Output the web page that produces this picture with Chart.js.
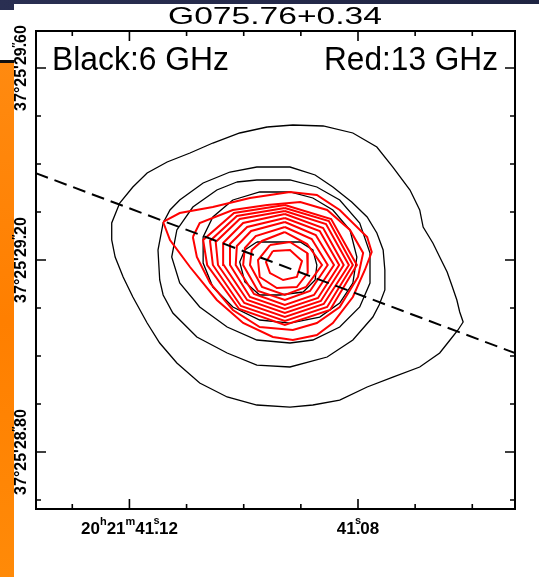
<!DOCTYPE html>
<html>
<head>
<meta charset="utf-8">
<script src="https://cdn.jsdelivr.net/npm/chart.js@4/dist/chart.umd.min.js"></script>
<style>
  html, body { margin: 0; padding: 0; background: #fff; }
  canvas { display: block; }
</style>
</head>
<body>
<canvas id="map" width="539" height="577"></canvas>
<script>
// ---- texts ----
const titleText = 'G075.76+0.34';
const leftNote = 'Black:6 GHz';
const rightNote = 'Red:13 GHz';

// ---- axes: RA in seconds of 20h21m, Dec in arcsec of +37°25' ----
const raRange = [41.052525, 41.13635];
const decRange = [28.68125, 29.677083];
const raMajorTicks = [41.12, 41.08];
const raMinorTicks = [41.13, 41.11, 41.10, 41.09, 41.07, 41.06];
const decMajorTicks = [29.6, 29.2, 28.8];
const decMinorTicks = [29.5, 29.4, 29.3, 29.1, 29.0, 28.9, 28.7];
const raTickLabels = [
  [{ t: '20' }, { t: 'h', sup: true }, { t: '21' }, { t: 'm', sup: true }, { t: '41' }, { t: '.', mark: 's' }, { t: '12' }],
  [{ t: '41' }, { t: '.', mark: 's' }, { t: '08' }]
];
const decTickLabels = [
  [{ t: '37°25\'29' }, { t: '.', mark: '″' }, { t: '60' }],
  [{ t: '37°25\'29' }, { t: '.', mark: '″' }, { t: '20' }],
  [{ t: '37°25\'28' }, { t: '.', mark: '″' }, { t: '80' }]
];

// ---- 6 GHz contours (black), vertices as [RA s, Dec arcsec] ----
const c6_1 = [[41.0959,29.4771],[41.0914,29.4812],[41.0861,29.4792],[41.0809,29.4646],[41.0767,29.4354],[41.0739,29.3937],[41.0709,29.3458],[41.0692,29.3042],[41.0686,29.2687],[41.0669,29.2354],[41.0657,29.2062],[41.0644,29.1750],[41.0636,29.1479],[41.0627,29.1167],[41.0622,29.0917],[41.0616,29.0708],[41.0625,29.0542],[41.0639,29.0333],[41.0657,29.0062],[41.0692,28.9771],[41.0739,28.9562],[41.0784,28.9354],[41.0832,28.9083],[41.0879,28.8979],[41.0919,28.8937],[41.0977,28.8979],[41.1029,28.9146],[41.1077,28.9437],[41.1117,28.9854],[41.1147,29.0271],[41.1169,29.0687],[41.1194,29.1229],[41.1211,29.1646],[41.1225,29.2062],[41.1231,29.2417],[41.1231,29.2771],[41.1217,29.3187],[41.1194,29.3521],[41.1169,29.3812],[41.1134,29.4042],[41.1094,29.4229],[41.1054,29.4437],[41.1007,29.4646]];
const c6_2 = [[41.1024,29.3833],[41.0977,29.3937],[41.0919,29.3937],[41.0875,29.3771],[41.0844,29.3521],[41.0811,29.3208],[41.0784,29.2896],[41.0767,29.2562],[41.0756,29.2208],[41.0753,29.1792],[41.0753,29.1375],[41.0763,29.1062],[41.0774,29.0812],[41.0809,29.0333],[41.0854,28.9979],[41.0919,28.9771],[41.0977,28.9812],[41.1029,29.0062],[41.1082,29.0396],[41.1124,29.0896],[41.1141,29.1271],[41.1147,29.1583],[41.1150,29.2208],[41.1141,29.2771],[41.1129,29.3042],[41.1112,29.3250],[41.1071,29.3604]];
const c6_3 = [[41.1012,29.3625],[41.0977,29.3667],[41.0919,29.3667],[41.0872,29.3521],[41.0832,29.3250],[41.0797,29.2771],[41.0779,29.2146],[41.0779,29.1521],[41.0797,29.1021],[41.0832,29.0604],[41.0879,29.0333],[41.0919,29.0271],[41.0977,29.0333],[41.1029,29.0604],[41.1077,29.1021],[41.1112,29.1521],[41.1126,29.2062],[41.1117,29.2625],[41.1089,29.3104],[41.1047,29.3458]];
const c6_4 = [[41.1019,29.3250],[41.0972,29.3417],[41.0919,29.3417],[41.0879,29.3292],[41.0844,29.3042],[41.0814,29.2625],[41.0802,29.2062],[41.0809,29.1521],[41.0832,29.1104],[41.0867,29.0812],[41.0919,29.0687],[41.0972,29.0750],[41.1019,29.1021],[41.1054,29.1437],[41.1071,29.1937],[41.1071,29.2479],[41.1054,29.2896]];
const c6_5 = [[41.0977,29.2375],[41.0901,29.2375],[41.0879,29.2208],[41.0872,29.1896],[41.0875,29.1583],[41.0896,29.1333],[41.0937,29.1271],[41.0972,29.1271],[41.0998,29.1542],[41.1007,29.1958],[41.0998,29.2208]];

// ---- 13 GHz contours (red), outermost first ----
const c13_01 = [[41.1141,29.2792],[41.1112,29.2979],[41.1054,29.3104],[41.0989,29.3292],[41.0919,29.3417],[41.0872,29.3354],[41.0832,29.3042],[41.0784,29.2479],[41.0776,29.2167],[41.0788,29.1792],[41.0809,29.1229],[41.0844,29.0687],[41.0872,29.0437],[41.0914,29.0333],[41.0949,29.0396],[41.1001,29.0687],[41.1047,29.1167],[41.1094,29.1854],[41.1129,29.2417]];
const c13_02 = [[41.1089,29.2479],[41.1077,29.2771],[41.1019,29.3042],[41.0959,29.3146],[41.0901,29.3208],[41.0854,29.3042],[41.0814,29.2625],[41.0791,29.2146],[41.0800,29.1646],[41.0832,29.1021],[41.0872,29.0687],[41.0914,29.0542],[41.0972,29.0604],[41.1019,29.0958],[41.1059,29.1521],[41.1082,29.2062]];
const c13_03 = [[41.0928,29.3146],[41.0847,29.2854],[41.0802,29.1896],[41.0849,29.0958],[41.0928,29.0646],[41.1008,29.0979],[41.1064,29.1896],[41.1071,29.2417],[41.1017,29.2979]];
const c13_04 = [[41.0928,29.3083],[41.0851,29.2812],[41.0809,29.1896],[41.0854,29.1021],[41.0928,29.0729],[41.1005,29.1042],[41.1054,29.1896],[41.1059,29.2396],[41.1012,29.2917]];
const c13_05 = [[41.0928,29.3021],[41.0856,29.2750],[41.0816,29.1896],[41.0860,29.1083],[41.0928,29.0812],[41.0999,29.1104],[41.1045,29.1896],[41.1049,29.2375],[41.1007,29.2854]];
const c13_06 = [[41.0928,29.2958],[41.0861,29.2667],[41.0825,29.1896],[41.0865,29.1146],[41.0928,29.0896],[41.0994,29.1167],[41.1035,29.1896],[41.1036,29.2354],[41.1001,29.2771]];
const c13_07 = [[41.0928,29.2875],[41.0867,29.2604],[41.0833,29.1896],[41.0870,29.1208],[41.0928,29.0979],[41.0989,29.1229],[41.1024,29.1896],[41.1024,29.2333],[41.0994,29.2687]];
const c13_08 = [[41.0928,29.2792],[41.0874,29.2521],[41.0842,29.1896],[41.0877,29.1271],[41.0928,29.1062],[41.0982,29.1292],[41.1014,29.1896],[41.1012,29.2292],[41.0987,29.2604]];
const c13_09 = [[41.0928,29.2687],[41.0881,29.2437],[41.0853,29.1896],[41.0884,29.1354],[41.0928,29.1167],[41.0975,29.1354],[41.1001,29.1896],[41.0998,29.2250],[41.0979,29.2500]];
const c13_10 = [[41.0928,29.2583],[41.0889,29.2333],[41.0863,29.1896],[41.0891,29.1437],[41.0928,29.1271],[41.0968,29.1437],[41.0989,29.1896],[41.0986,29.2208],[41.0968,29.2396]];
const c13_11 = [[41.0954,29.2312],[41.0919,29.2375],[41.0889,29.2146],[41.0888,29.1729],[41.0907,29.1437],[41.0942,29.1417],[41.0972,29.1646],[41.0975,29.2000]];
const c13_12 = [[41.0949,29.2187],[41.0919,29.2208],[41.0898,29.1979],[41.0907,29.1646],[41.0931,29.1583],[41.0954,29.1729],[41.0961,29.1958]];

// ---- dashed reference line ----
const axisLine = [[41.1364, 29.381], [41.0525, 29.006]];

const blackContours = [c6_1, c6_2, c6_3, c6_4, c6_5];
const redContours = [c13_01, c13_02, c13_03, c13_04, c13_05, c13_06, c13_07, c13_08, c13_09, c13_10, c13_11, c13_12];

function ring(pts) {
  const d = pts.map(p => ({ x: p[0], y: p[1] }));
  d.push({ x: pts[0][0], y: pts[0][1] });
  return d;
}

const datasets = [];
datasets.push({
  data: axisLine.map(p => ({ x: p[0], y: p[1] })),
  borderColor: '#000', borderWidth: 2, borderDash: [13, 7], order: 0
});
redContours.forEach(c => datasets.push({ data: ring(c), borderColor: '#ff0000', borderWidth: 2, order: 1 }));
blackContours.forEach(c => datasets.push({ data: ring(c), borderColor: '#000', borderWidth: 1.3, order: 2 }));
datasets.forEach(d => Object.assign(d, { showLine: true, pointRadius: 0, fill: false, tension: 0 }));

const FONT = '"Liberation Sans", Arial, "DejaVu Sans", sans-serif';

function stretchText(ctx, str, x, y, size, width, align) {
  ctx.font = size + 'px ' + FONT;
  const w = ctx.measureText(str).width;
  const s = width / w;
  ctx.save();
  ctx.translate(x, y);
  ctx.scale(s, 1);
  ctx.textAlign = align;
  ctx.textBaseline = 'alphabetic';
  ctx.fillText(str, 0, 0);
  ctx.restore();
}

// composite label with superscripts and marks over the decimal point
function drawComposite(ctx, parts, cx, baseline, mainFont, supFont, supRise, markRise) {
  let w = 0;
  const items = parts.map(p => {
    ctx.font = p.sup ? supFont : mainFont;
    const pw = ctx.measureText(p.t).width;
    const it = { p, x: w, w: pw };
    w += pw;
    return it;
  });
  const x0 = cx - w / 2;
  ctx.textBaseline = 'alphabetic';
  items.forEach(it => {
    ctx.textAlign = 'left';
    ctx.font = it.p.sup ? supFont : mainFont;
    ctx.fillText(it.p.t, x0 + it.x, baseline - (it.p.sup ? supRise : 0));
    if (it.p.mark) {
      ctx.font = supFont;
      ctx.textAlign = 'center';
      ctx.fillText(it.p.mark, x0 + it.x + it.w / 2, baseline - markRise);
    }
  });
}

const backdrop = {
  id: 'backdrop',
  beforeDraw(chart) {
    const ctx = chart.ctx;
    ctx.save();
    ctx.fillStyle = '#ffffff';
    ctx.fillRect(0, 0, chart.width, chart.height);
    const g = ctx.createLinearGradient(0, 0, chart.width, 0);
    g.addColorStop(0, '#2a2f52');
    g.addColorStop(1, '#1f2442');
    ctx.fillStyle = g;
    ctx.fillRect(0, 0, chart.width, 4);
    ctx.fillRect(0, 0, 14, 10);
    ctx.fillStyle = '#111';
    ctx.fillRect(0, 60, 14, 3);
    const o = ctx.createLinearGradient(0, 63, 0, chart.height);
    o.addColorStop(0, '#ff8a10');
    o.addColorStop(0.5, '#ff7f00');
    o.addColorStop(1, '#ff8a08');
    ctx.fillStyle = o;
    ctx.fillRect(0, 63, 14, chart.height - 63);
    ctx.restore();
  }
};

const frame = {
  id: 'frame',
  afterDraw(chart) {
    const ctx = chart.ctx;
    const a = chart.chartArea;
    const xs = chart.scales.x, ys = chart.scales.y;
    ctx.save();
    ctx.strokeStyle = '#000';
    ctx.fillStyle = '#000';
    ctx.lineWidth = 2;
    ctx.strokeRect(a.left, a.top, a.right - a.left, a.bottom - a.top);

    ctx.lineWidth = 1.6;
    ctx.beginPath();
    const tickX = (v, len) => {
      const px = xs.getPixelForValue(v);
      ctx.moveTo(px, a.bottom); ctx.lineTo(px, a.bottom - len);
      ctx.moveTo(px, a.top); ctx.lineTo(px, a.top + len);
    };
    const tickY = (v, len) => {
      const py = ys.getPixelForValue(v);
      ctx.moveTo(a.left, py); ctx.lineTo(a.left + len, py);
      ctx.moveTo(a.right, py); ctx.lineTo(a.right - len, py);
    };
    raMajorTicks.forEach(v => tickX(v, 10));
    raMinorTicks.forEach(v => tickX(v, 5));
    decMajorTicks.forEach(v => tickY(v, 10));
    decMinorTicks.forEach(v => tickY(v, 5));
    ctx.stroke();

    // RA labels
    raMajorTicks.forEach((v, i) => {
      drawComposite(ctx, raTickLabels[i], xs.getPixelForValue(v), 534,
        'bold 17px ' + FONT, 'bold 11px ' + FONT, 9, 10);
    });
    // Dec labels, rotated
    decMajorTicks.forEach((v, i) => {
      ctx.save();
      ctx.translate(26, ys.getPixelForValue(v));
      ctx.rotate(-Math.PI / 2);
      drawComposite(ctx, decTickLabels[i], 0, 0,
        'bold 16px ' + FONT, 'bold 11px ' + FONT, 8, 6);
      ctx.restore();
    });

    // title and notes
    ctx.fillStyle = '#000';
    stretchText(ctx, titleText, 275, 24, 24, 214, 'center');
    stretchText(ctx, leftNote, 52, 70, 33, 177, 'left');
    stretchText(ctx, rightNote, 498, 70, 33, 174, 'right');
    ctx.restore();
  }
};

new Chart(document.getElementById('map'), {
  type: 'scatter',
  data: { datasets },
  options: {
    responsive: false,
    animation: false,
    devicePixelRatio: 1,
    layout: { padding: { left: 36, top: 31, right: 24, bottom: 68 } },
    plugins: { legend: { display: false }, tooltip: { enabled: false } },
    events: [],
    scales: {
      x: { type: 'linear', reverse: true, min: raRange[0], max: raRange[1], display: false },
      y: { type: 'linear', min: decRange[0], max: decRange[1], display: false }
    }
  },
  plugins: [backdrop, frame]
});
</script>
</body>
</html>
